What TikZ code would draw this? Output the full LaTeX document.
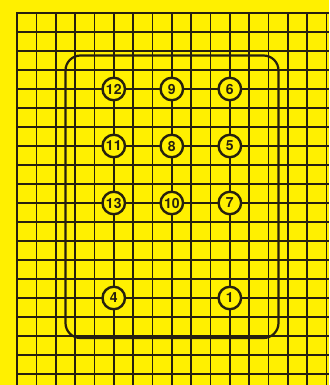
\documentclass[tikz,border=0pt]{standalone}
\usepackage{fontspec}
\setmainfont{TeX Gyre Heros}
\definecolor{bgyellow}{RGB}{255,240,0}
\definecolor{ink}{RGB}{38,32,14}
\tikzset{
  gridline/.style={draw=ink, line width=1.6pt},
  frameline/.style={draw=ink, line width=2.2pt, rounded corners=15pt},
  pinhole/.style={circle, draw=ink, fill=bgyellow, line width=2.4pt, minimum size=22.5pt, inner sep=0pt,
    font=\fontsize{14}{14}\selectfont\bfseries, text=ink}
}
\begin{document}
\begin{tikzpicture}[x=1pt,y=-1pt]
\useasboundingbox (0,0) rectangle (329,385);
\fill[bgyellow] (0,0) rectangle (329,385);
\foreach \gx in {17,36.35,55.7,75.05,94.4,113.75,133.1,152.45,171.8,191.15,210.5,229.85,249.2,268.55,287.9,307.25,326.6}
  {\draw[gridline] (\gx,13) -- (\gx,385);}
\foreach \gy in {13,32,51,70,89,108,127,146,165,184,203,222,241,260,279,298,317,336,355,374}
  {\draw[gridline] (16.2,\gy) -- (329,\gy);}
\draw[frameline] (65.5,55.5) rectangle (278.5,338);
\node[pinhole] (n12) at (113.75,89) {12};
\node[pinhole] (n9)  at (171.8,89)  {9};
\node[pinhole] (n6)  at (229.85,89) {6};
\node[pinhole] (n11) at (113.75,146) {11};
\node[pinhole] (n8)  at (171.8,146)  {8};
\node[pinhole] (n5)  at (229.85,146) {5};
\node[pinhole] (n13) at (113.75,203) {13};
\node[pinhole] (n10) at (171.8,203)  {10};
\node[pinhole] (n7)  at (229.85,203) {7};
\node[pinhole] (n4)  at (113.75,298) {4};
\node[pinhole] (n1)  at (229.85,298) {1};
\end{tikzpicture}
\end{document}
